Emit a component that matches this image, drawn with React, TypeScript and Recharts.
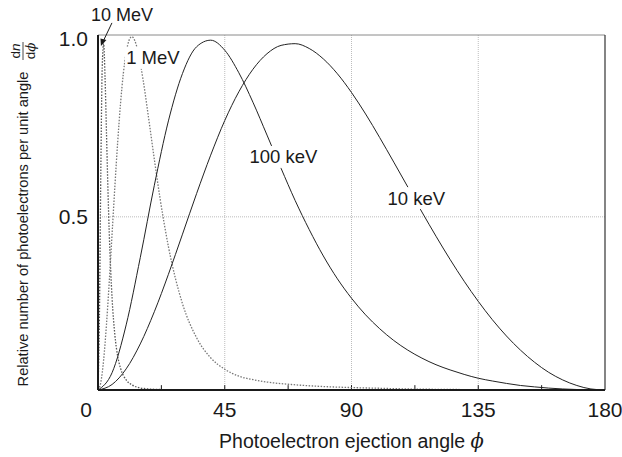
import { LineChart, Line, XAxis, YAxis, CartesianGrid, ReferenceLine, ReferenceDot, Label } from "recharts";

// photoelectron angular distributions
const kev10Angle = [0, 5, 10, 15, 20, 25, 30, 35, 40, 45, 50, 55, 60, 65, 70, 75, 80, 85, 90, 95, 100, 105, 110, 115, 120, 125, 130, 135, 140, 145, 150, 155, 160, 165, 170, 175, 180];
const kev10Value = [0, 0.016, 0.061, 0.133, 0.226, 0.334, 0.45, 0.567, 0.678, 0.778, 0.861, 0.926, 0.971, 0.995, 1.0, 0.986, 0.956, 0.913, 0.859, 0.797, 0.729, 0.658, 0.586, 0.514, 0.444, 0.377, 0.314, 0.256, 0.203, 0.156, 0.115, 0.08, 0.051, 0.029, 0.013, 0.003, 0];

const kev100Angle = [0, 5, 10, 15, 20, 25, 30, 35, 40, 45, 50, 55, 60, 65, 70, 75, 80, 85, 90, 95, 100, 105, 110, 115, 120, 125, 130, 135, 140, 145, 150, 155, 160, 165, 170, 175, 180];
const kev100Value = [0, 0.05, 0.188, 0.382, 0.591, 0.777, 0.914, 0.991, 1.01, 0.981, 0.916, 0.831, 0.736, 0.64, 0.547, 0.463, 0.387, 0.321, 0.265, 0.217, 0.177, 0.143, 0.115, 0.092, 0.073, 0.058, 0.045, 0.034, 0.026, 0.019, 0.013, 0.009, 0.0055, 0.003, 0.0014, 0.0004, 0];

const mev1Angle = [0, 1, 2, 3, 4, 5, 6, 7, 8, 9, 10, 11, 12, 13, 14, 16, 18, 20, 22, 25, 30, 35, 40, 45, 50, 55, 60, 70, 80, 90, 100, 110, 120, 135, 150, 180];
const mev1Value = [0, 0.022, 0.087, 0.188, 0.313, 0.451, 0.589, 0.717, 0.827, 0.914, 0.974, 1.009, 1.02, 1.01, 0.984, 0.896, 0.783, 0.666, 0.555, 0.414, 0.249, 0.151, 0.093, 0.06, 0.04, 0.03, 0.023, 0.015, 0.01, 0.007, 0.005, 0.003, 0.002, 0.001, 0.0005, 0];

const mev10Angle = [0, 0.5, 1, 1.5, 2, 2.5, 3, 3.5, 4, 5, 6, 7, 8, 10, 12, 15, 20, 30, 45, 90, 180];
const mev10Value = [0, 0.209, 0.631, 0.932, 1.0, 0.903, 0.746, 0.588, 0.453, 0.265, 0.158, 0.097, 0.063, 0.029, 0.015, 0.006, 0.002, 0.0004, 0.0001, 0, 0];

const xTicks = [0, 45, 90, 135, 180];
const minorTicks = [22.5, 45, 67.5, 90, 112.5, 135, 157.5];
const yTicks = [0.5, 1.0];

const toPoints = (angles: number[], values: number[]) =>
    angles.map((phi, i) => ({ phi, v: values[i] }));

const kev10 = toPoints(kev10Angle, kev10Value);
const kev100 = toPoints(kev100Angle, kev100Value);
const mev1 = toPoints(mev1Angle, mev1Value);
const mev10 = toPoints(mev10Angle, mev10Value);

// label anchors in data space
const curveLabels = [
    { text: "1 MeV", phi: 19.5, v: 0.959, w: 56 },
    { text: "100 keV", phi: 65.8, v: 0.673, w: 72 },
    { text: "10 keV", phi: 113, v: 0.554, w: 62 },
];

const FONT = "'Liberation Sans', Arial, Helvetica, sans-serif";
const INK = "#1a1a1a";

const XTick = (props: any) => {
    const { x, y, payload } = props;
    const shift = payload.value === 0 ? -12 : 0;
    return (
        <text x={x + shift} y={y} dy="0.71em" textAnchor="middle" fontSize={21} fill={INK} fontFamily={FONT}>
            {payload.value}
        </text>
    );
};

const YTick = (props: any) => {
    const { x, y, payload } = props;
    const shift = payload.value === 1 ? -5 : 0;
    return (
        <text x={x} y={y + shift} textAnchor="end" dominantBaseline="central" fontSize={21} fill={INK} fontFamily={FONT}>
            {payload.value.toFixed(1)}
        </text>
    );
};

const XTitle = (props: any) => {
    const vb = props.viewBox || { x: 98, y: 390, width: 507 };
    return (
        <text x={vb.x + vb.width / 2} y={vb.y + 51} textAnchor="middle" dominantBaseline="central" fontSize={19.5} fill={INK} fontFamily={FONT}>
            Photoelectron ejection angle{"  "}
            <tspan fontStyle="italic" fontFamily="'DejaVu Serif', serif">ϕ</tspan>
        </text>
    );
};

const YTitle = () => (
    <g transform="translate(23, 229) rotate(-90)" fontFamily={FONT} fill={INK}>
        <text x={0} y={0} textAnchor="middle" dominantBaseline="central" fontSize={14.6}>
            Relative number of photoelectrons per unit angle
        </text>
        <g transform="translate(178, 0)">
            <text x={0} y={-3} textAnchor="middle" fontSize={13.5}>
                d<tspan fontStyle="italic">n</tspan>
            </text>
            <line x1={-9} x2={9} y1={0} y2={0} stroke={INK} strokeWidth={0.8} />
            <text x={0} y={12} textAnchor="middle" fontSize={13.5}>
                d<tspan fontStyle="italic" fontFamily="'DejaVu Serif', serif">ϕ</tspan>
            </text>
        </g>
    </g>
);

const boxedLabel = (text: string, w: number) => (props: any) => {
    const { cx, cy } = props;
    return (
        <g>
            <rect x={cx - w / 2} y={cy - 11} width={w} height={22} fill="#fff" />
            <text x={cx} y={cy} textAnchor="middle" dominantBaseline="central" fontSize={18.5} fill={INK} fontFamily={FONT}>
                {text}
            </text>
        </g>
    );
};

const arrowLabel = (props: any) => {
    const { cx, cy } = props;
    return (
        <g>
            <text x={cx} y={cy} textAnchor="middle" dominantBaseline="central" fontSize={18} fill={INK} fontFamily={FONT}>
                10 MeV
            </text>
            <line x1={cx - 10} y1={cy + 8} x2={cx - 20} y2={cy + 29} stroke={INK} strokeWidth={1} />
            <polygon
                points={`${cx - 21},${cy + 31} ${cx - 15.5},${cy + 25} ${cx - 21.5},${cy + 23.5}`}
                fill={INK}
            />
        </g>
    );
};

export default function App() {
    return (
        <div style={{ width: 622, height: 457, background: "#fff" }}>
            <style>{"body{margin:0;background:#fff}"}</style>
            <LineChart width={622} height={457} margin={{ top: 35, right: 17, left: 0, bottom: 0 }}>
                <CartesianGrid
                    stroke="#bdbdbd"
                    strokeDasharray="1 1"
                    verticalValues={[45, 90, 135]}
                    horizontalValues={[0.5]}
                />
                <XAxis
                    type="number"
                    dataKey="phi"
                    domain={[0, 180]}
                    ticks={xTicks}
                    interval={0}
                    height={67}
                    tickLine={false}
                    tickSize={8}
                    tickMargin={4}
                    axisLine={{ stroke: INK, strokeWidth: 2 }}
                    tick={<XTick />}
                    allowDuplicatedCategory={false}
                >
                    <Label content={XTitle} />
                </XAxis>
                <YAxis
                    type="number"
                    dataKey="v"
                    domain={[0, 1.025]}
                    ticks={yTicks}
                    width={98}
                    tickLine={false}
                    tickSize={6}
                    tickMargin={4}
                    axisLine={{ stroke: INK, strokeWidth: 2 }}
                    tick={<YTick />}
                >
                    <Label content={YTitle} />
                </YAxis>
                <ReferenceLine y={1.025} stroke="#8a8a8a" strokeWidth={1} />
                <ReferenceLine x={180} stroke="#333" strokeWidth={1.2} />
                {minorTicks.map((t) => (
                    <ReferenceLine
                        key={t}
                        segment={[{ x: t, y: 0 }, { x: t, y: 0.014 }]}
                        stroke={INK}
                        strokeWidth={1}
                    />
                ))}
                <Line data={mev10} dataKey="v" type="monotone" stroke="#555" strokeWidth={1.3} strokeDasharray="1.5 1.5" dot={false} isAnimationActive={false} />
                <Line data={mev1} dataKey="v" type="monotone" stroke="#777" strokeWidth={1.3} strokeDasharray="1.5 1.5" dot={false} isAnimationActive={false} />
                <Line data={kev100} dataKey="v" type="monotone" stroke="#222" strokeWidth={1} dot={false} isAnimationActive={false} />
                <Line data={kev10} dataKey="v" type="monotone" stroke="#222" strokeWidth={1} dot={false} isAnimationActive={false} />
                {curveLabels.map((l) => (
                    <ReferenceDot key={l.text} x={l.phi} y={l.v} r={0} ifOverflow="visible" shape={boxedLabel(l.text, l.w)} />
                ))}
                <ReferenceDot x={8.5} y={1.083} r={0} ifOverflow="visible" shape={arrowLabel} />
            </LineChart>
        </div>
    );
}
